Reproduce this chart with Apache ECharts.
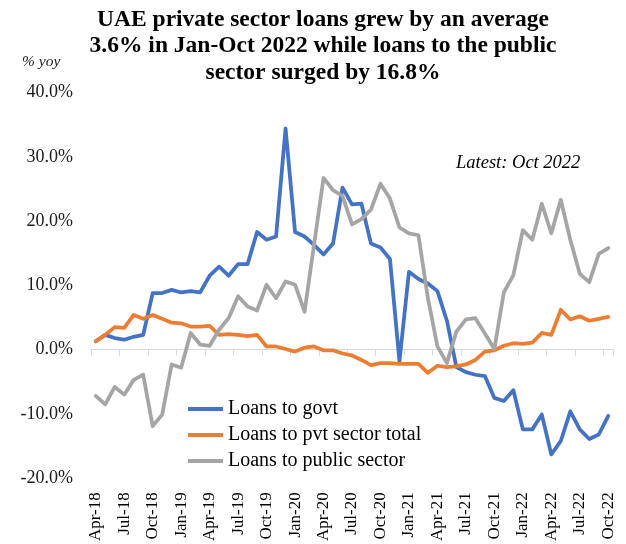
<!DOCTYPE html>
<html>
<head>
<meta charset="utf-8">
<script src="https://cdn.jsdelivr.net/npm/echarts@6/dist/echarts.min.js"></script>
<style>
  html, body { margin: 0; padding: 0; background: #fff; }
  #chart { width: 626px; height: 544px; }
</style>
</head>
<body>
<div id="chart"></div>
<script>
// Monthly categories, Apr-2018 .. Oct-2022
const months = [
  'Apr-18','May-18','Jun-18','Jul-18','Aug-18','Sep-18','Oct-18','Nov-18','Dec-18',
  'Jan-19','Feb-19','Mar-19','Apr-19','May-19','Jun-19','Jul-19','Aug-19','Sep-19','Oct-19','Nov-19','Dec-19',
  'Jan-20','Feb-20','Mar-20','Apr-20','May-20','Jun-20','Jul-20','Aug-20','Sep-20','Oct-20','Nov-20','Dec-20',
  'Jan-21','Feb-21','Mar-21','Apr-21','May-21','Jun-21','Jul-21','Aug-21','Sep-21','Oct-21','Nov-21','Dec-21',
  'Jan-22','Feb-22','Mar-22','Apr-22','May-22','Jun-22','Jul-22','Aug-22','Sep-22','Oct-22'
];

// Year-on-year growth, %
const loansGovt = [
  1.3, 2.3, 1.8, 1.55, 2.0, 2.3, 8.8, 8.8, 9.3,
  8.9, 9.1, 8.9, 11.5, 12.9, 11.5, 13.3, 13.3, 18.3, 17.1, 17.6, 34.4,
  18.3, 17.6, 16.3, 14.8, 16.5, 25.2, 22.6, 22.7, 16.5, 15.9, 14.1, -1.8,
  12.1, 11.0, 10.3, 9.1, 4.5, -2.7, -3.5, -3.9, -4.1, -7.5, -8.0, -6.3,
  -12.4, -12.4, -10.1, -16.3, -14.2, -9.6, -12.4, -13.9, -13.2, -10.3
];
const loansPvt = [
  1.3, 2.3, 3.5, 3.4, 5.4, 4.8, 5.4, 4.8, 4.2,
  4.1, 3.6, 3.6, 3.7, 2.3, 2.4, 2.3, 2.1, 2.3, 0.5, 0.5, 0.1,
  -0.3, 0.3, 0.5, -0.1, -0.1, -0.6, -0.9, -1.6, -2.4, -2.1, -2.1, -2.2,
  -2.2, -2.2, -3.6, -2.5, -2.7, -2.6, -2.3, -1.6, -0.3, -0.1, 0.6, 1.0,
  0.9, 1.1, 2.6, 2.3, 6.2, 4.7, 5.2, 4.5, 4.8, 5.1
];
const loansPublic = [
  -7.2, -8.5, -5.8, -7.0, -4.7, -3.9, -11.9, -10.1, -2.3,
  -2.8, 2.6, 0.8, 0.6, 3.1, 4.9, 8.3, 6.7, 6.1, 10.1, 8.0, 10.6,
  10.1, 5.9, 16.3, 26.7, 24.8, 23.9, 19.5, 20.3, 21.8, 25.8, 23.5, 19.0,
  18.1, 17.8, 8.0, 0.5, -2.1, 2.8, 4.7, 4.9, 2.5, 0.1, 8.9, 11.6,
  18.6, 17.1, 22.7, 18.1, 23.3, 17.1, 11.8, 10.5, 14.9, 15.8
];

const seriesNames = ['Loans to govt', 'Loans to pvt sector total', 'Loans to public sector'];
const seriesColors = ['#4472C4', '#ED7D31', '#A5A5A5'];

const titleText = 'UAE private sector loans grew by an average\n3.6% in Jan-Oct 2022 while loans to the public\nsector surged by 16.8%';
const unitText = '% yoy';
const noteText = 'Latest: Oct 2022';

const FONT = "'Liberation Serif', 'Times New Roman', serif";

const chart = echarts.init(document.getElementById('chart'), null, { renderer: 'canvas' });

function lineSeries(name, data, color) {
  return {
    name: name,
    type: 'line',
    data: data,
    xAxisIndex: 0,
    symbol: 'none',
    smooth: false,
    lineStyle: { width: 3.75, color: color, cap: 'round', join: 'round' },
    itemStyle: { color: color },
    emphasis: { disabled: true },
    animation: false
  };
}

chart.setOption({
  animation: false,
  backgroundColor: '#ffffff',
  title: {
    text: titleText,
    left: 323,
    top: 6.5,
    padding: 0,
    textAlign: 'center',
    textStyle: {
      fontFamily: FONT,
      fontWeight: 'bold',
      fontSize: 23.5,
      lineHeight: 26.5,
      color: '#000000'
    }
  },
  graphic: [
    {
      type: 'text',
      left: 22,
      top: 54,
      style: {
        text: unitText,
        font: 'italic 15.5px ' + FONT,
        fill: '#222222'
      }
    },
    {
      type: 'text',
      left: 456,
      top: 154,
      style: {
        text: noteText,
        font: 'italic 18.5px ' + FONT,
        fill: '#000000'
      }
    }
  ],
  legend: {
    orient: 'vertical',
    left: 188,
    top: 399,
    padding: 0,
    itemWidth: 35,
    itemHeight: 4,
    itemGap: 6,
    icon: 'rect',
    data: seriesNames,
    textStyle: {
      fontFamily: FONT,
      fontSize: 20,
      lineHeight: 20,
      color: '#000000'
    }
  },
  grid: {
    left: 91,
    right: 13,
    top: 92.5,
    bottom: 65.2,
    containLabel: false
  },
  xAxis: [
    {
      type: 'category',
      data: months,
      boundaryGap: true,
      position: 'bottom',
      axisLine: { show: true, onZero: true, lineStyle: { color: '#D9D9D9', width: 1 } },
      axisTick: { show: true, interval: 2, length: 6, lineStyle: { color: '#D9D9D9', width: 1 } },
      axisLabel: { show: false },
      splitLine: { show: false }
    },
    {
      type: 'category',
      data: months,
      boundaryGap: true,
      position: 'bottom',
      axisLine: { show: false, onZero: false },
      axisTick: { show: false },
      axisLabel: {
        show: true,
        interval: 2,
        rotate: 90,
        margin: 14,
        fontFamily: FONT,
        fontSize: 17,
        color: '#000000'
      },
      splitLine: { show: false }
    }
  ],
  yAxis: {
    type: 'value',
    min: -20,
    max: 40,
    interval: 10,
    axisLine: { show: false },
    axisTick: { show: false },
    splitLine: { show: false },
    axisLabel: {
      margin: 18,
      fontFamily: FONT,
      fontSize: 18,
      color: '#1a1a1a',
      formatter: function (v) { return v.toFixed(1) + '%'; }
    }
  },
  series: [
    lineSeries(seriesNames[0], loansGovt, seriesColors[0]),
    lineSeries(seriesNames[1], loansPvt, seriesColors[1]),
    lineSeries(seriesNames[2], loansPublic, seriesColors[2])
  ]
});
</script>
</body>
</html>
